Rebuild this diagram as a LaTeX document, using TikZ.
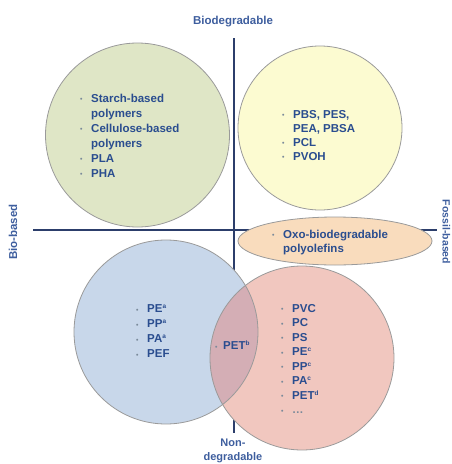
\documentclass[tikz,border=0pt]{standalone}
\usepackage{fontspec}
\setmainfont{Liberation Sans}
\usetikzlibrary{calc}
\definecolor{axisblue}{HTML}{2C3E6B}
\definecolor{txtblue}{HTML}{2A4D8F}
\definecolor{lblblue}{HTML}{3E5E9E}
\definecolor{bulgray}{HTML}{7A8A9A}
\definecolor{cgreen}{HTML}{DFE6C6}
\definecolor{cyellow}{HTML}{FCFBD1}
\definecolor{corange}{HTML}{F9DCBD}
\definecolor{cblue}{HTML}{C8D7EA}
\definecolor{cpink}{HTML}{F1C7BF}
\definecolor{cmauve}{HTML}{D4AEB5}
\definecolor{cedge}{HTML}{9A9A9A}
\newcommand{\itm}[1]{\makebox[11pt][l]{\raisebox{0.5pt}{\textcolor{bulgray}{\scalebox{0.6}{\textbullet}}}}#1}
\newcommand{\cnt}[1]{\hspace*{11pt}#1}
\newcommand{\sps}[1]{\textsuperscript{\scalebox{0.8}{#1}}}
\tikzset{
  axisline/.style={draw=axisblue,line width=1.1pt},
  blob/.style={draw=cedge,line width=0.8pt},
  listtxt/.style={anchor=north west,inner sep=0pt,align=left,text=txtblue,
    font=\fontsize{11.5}{#1}\selectfont\bfseries},
  listtxt/.default=15,
  axislbl/.style={text=lblblue,inner sep=0pt,font=\fontsize{11.5}{14}\selectfont\bfseries}
}
\begin{document}
\begin{tikzpicture}[x=1pt,y=-1pt]
\useasboundingbox (0,0) rectangle (451,464);
% axes
\coordinate (vtop) at (234,38);
\coordinate (vbot) at (234,433);
\coordinate (hleft) at (33,230);
\coordinate (hright) at (437,230);
\draw[axisline] (vtop) -- (vbot);
\draw[axisline] (hleft) -- (hright);
% green and yellow circles
\fill[cgreen] (137.5,135) circle[radius=92];
\draw[blob] (137.5,135) circle[radius=92];
\fill[cyellow] (320,128) circle[radius=82];
\draw[blob] (320,128) circle[radius=82];
% blue and pink circles with intersection
\fill[cblue] (166,332) circle[radius=92];
\fill[cpink] (302,358) circle[radius=92];
\begin{scope}
  \clip (166,332) circle[radius=92];
  \fill[cmauve] (302,358) circle[radius=92];
\end{scope}
\draw[blob] (166,332) circle[radius=92];
\draw[blob] (302,358) circle[radius=92];
% orange ellipse
\fill[corange] (335,241) ellipse[x radius=97,y radius=24];
\draw[blob] (335,241) ellipse[x radius=97,y radius=24];
% axis labels
\node[axislbl] (lbio) at (233,22) {Biodegradable};
\node[axislbl,align=center,font=\fontsize{11}{14.5}\selectfont\bfseries] (lnon) at (233,451) {Non-\\degradable};
\node[axislbl,rotate=90] (lbb) at (13,232) {Bio-based};
\node[axislbl,rotate=-90,anchor=north,font=\fontsize{10.5}{14}\selectfont\bfseries] (lfb) at (450.5,232) {Fossil-based};
% lists
\node[listtxt] (lgreen) at (80,91.5) {\strut\itm{Starch-based}\\\cnt{polymers}\\\itm{Cellulose-based}\\\cnt{polymers}\\\itm{PLA}\\\itm{PHA}};
\node[listtxt=14] (lyellow) at (282,108) {\strut\itm{PBS, PES,}\\\cnt{PEA, PBSA}\\\itm{PCL}\\\itm{PVOH}};
\node[listtxt=14] (lorange) at (272,228) {\strut\itm{Oxo-biodegradable}\\\cnt{polyolefins}};
\node[listtxt] (lblue) at (136,302) {\strut\itm{PE\sps{a}}\\\itm{PP\sps{a}}\\\itm{PA\sps{a}}\\\itm{PEF}};
\node[listtxt] (lpet) at (215,339) {\strut\makebox[8pt][l]{\raisebox{0.5pt}{\textcolor{bulgray}{\scalebox{0.6}{\textbullet}}}}PET\sps{b}};
\node[listtxt=14.5] (lpink) at (281,302) {\strut\itm{PVC}\\\itm{PC}\\\itm{PS}\\\itm{PE\sps{c}}\\\itm{PP\sps{c}}\\\itm{PA\sps{c}}\\\itm{PET\sps{d}}\\\itm{\textcolor{bulgray}{\dots}}};
\end{tikzpicture}
\end{document}
